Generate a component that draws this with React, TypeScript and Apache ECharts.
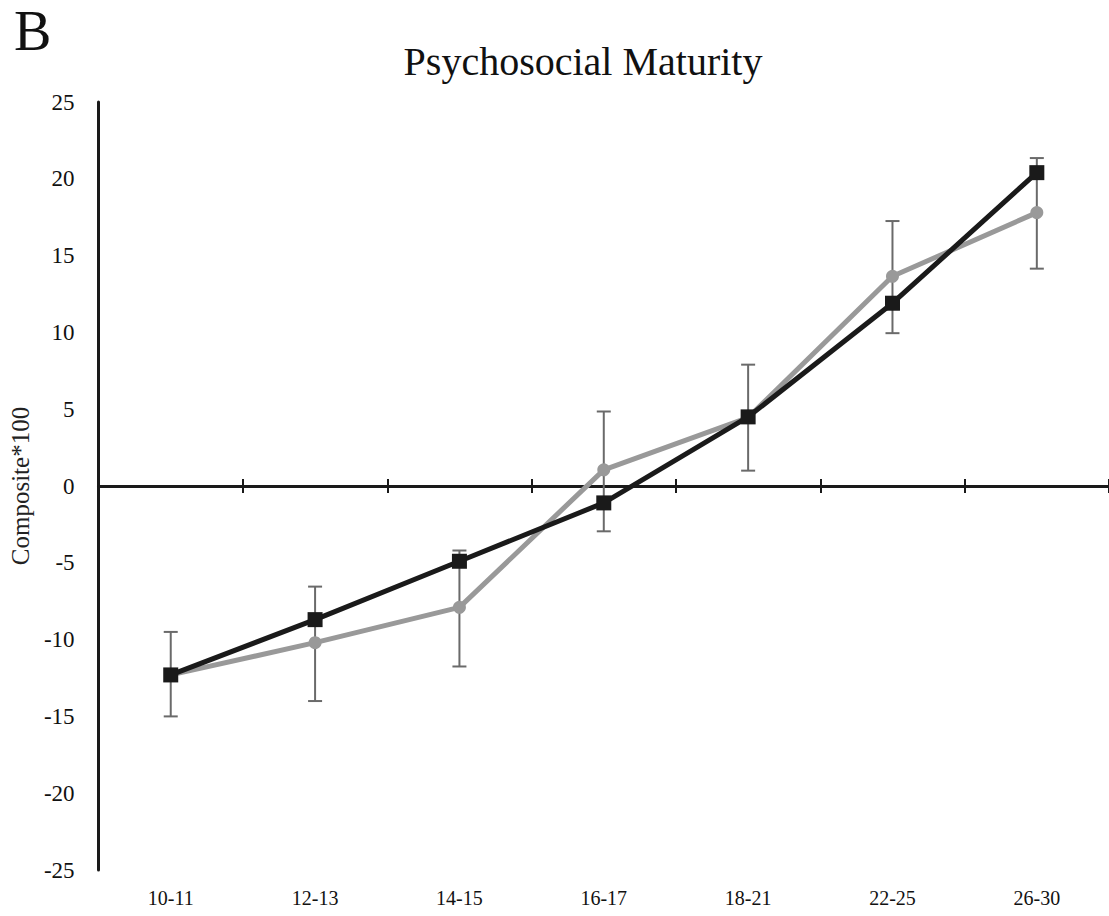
import React, { useEffect, useRef } from "react";
import * as echarts from "echarts";

const categories = ["10-11", "12-13", "14-15", "16-17", "18-21", "22-25", "26-30"];
const blackSeries = [-12.3, -8.7, -4.9, -1.1, 4.5, 11.9, 20.4];
const graySeries = [-12.3, -10.2, -7.9, 1.05, 4.45, 13.65, 17.8];
const errLow = [-15.0, -14.0, -11.75, -2.95, 1.0, 9.95, 14.15];
const errHigh = [-9.5, -6.55, -4.2, 4.85, 7.9, 17.25, 21.35];
const yTicks = { min: -25, max: 25, interval: 5 };

const SERIF = "'Liberation Serif', 'DejaVu Serif', serif";

export default function App() {
  const ref = useRef<HTMLDivElement>(null);

  useEffect(() => {
    if (!ref.current) return;
    const chart = echarts.init(ref.current, null, { renderer: "svg" });
    const errData = categories.map((_, i) => [i, errLow[i], errHigh[i]]);

    chart.setOption({
      animation: false,
      backgroundColor: "#ffffff",
      grid: { left: 97, top: 102, width: 1024, height: 768, containLabel: false },
      graphic: [
        {
          type: "text",
          x: 14,
          y: 3,
          style: { text: "B", font: `56px ${SERIF}`, fill: "#111", textVerticalAlign: "top" },
        },
        {
          type: "text",
          x: 583,
          y: 41,
          style: {
            text: "Psychosocial Maturity",
            font: `40px ${SERIF}`,
            fill: "#111",
            textAlign: "center",
            textVerticalAlign: "top",
          },
        },
      ],
      xAxis: [
        {
          type: "category",
          data: categories,
          boundaryGap: true,
          position: "bottom",
          axisLine: { show: false, onZero: false },
          axisTick: { show: false },
          axisLabel: { margin: 18, fontSize: 20, fontFamily: SERIF, color: "#111" },
          splitLine: { show: false },
        },
        {
          type: "category",
          data: categories,
          boundaryGap: true,
          position: "bottom",
          axisLine: { show: true, onZero: true, onZeroAxisIndex: 0, lineStyle: { color: "#1a1a1a", width: 3 } },
          axisTick: { show: true, inside: false, length: 7, lineStyle: { color: "#1a1a1a", width: 2 } },
          axisLabel: { show: false },
          splitLine: { show: false },
        },
        {
          type: "category",
          data: categories,
          boundaryGap: true,
          position: "bottom",
          axisLine: { show: true, onZero: true, onZeroAxisIndex: 1, lineStyle: { color: "#1a1a1a", width: 3, opacity: 0 } },
          axisTick: { show: true, inside: true, length: 7, lineStyle: { color: "#1a1a1a", width: 2 } },
          axisLabel: { show: false },
          splitLine: { show: false },
        },
      ],
      yAxis: [
        {
          type: "value",
          min: yTicks.min,
          max: yTicks.max,
          interval: yTicks.interval,
          name: "Composite*100",
          nameLocation: "middle",
          nameRotate: 90,
          nameGap: 44,
          nameTextStyle: { fontSize: 25, fontFamily: SERIF, color: "#222" },
          axisLine: { show: true, onZero: false, lineStyle: { color: "#1a1a1a", width: 3 } },
          axisTick: { show: false },
          axisLabel: { margin: 24, fontSize: 23, fontFamily: SERIF, color: "#111" },
          splitLine: { show: false },
        },
        {
          type: "value",
          min: yTicks.min,
          max: yTicks.max,
          interval: yTicks.interval,
          position: "left",
          axisLine: { show: false, onZero: false },
          axisTick: { show: false },
          axisLabel: { show: false },
          splitLine: { show: false },
        },
      ],
      series: [
        {
          type: "custom",
          name: "error",
          xAxisIndex: 1,
          yAxisIndex: 0,
          z: 1,
          data: errData,
          renderItem: (params: any, api: any) => {
            const x = api.value(0);
            const lo = api.coord([x, api.value(1)]);
            const hi = api.coord([x, api.value(2)]);
            const cap = 7;
            const style = { stroke: "#6a6a6a", lineWidth: 2, fill: "none" };
            return {
              type: "group",
              children: [
                { type: "line", shape: { x1: lo[0], y1: lo[1], x2: hi[0], y2: hi[1] }, style },
                { type: "line", shape: { x1: lo[0] - cap, y1: lo[1], x2: lo[0] + cap, y2: lo[1] }, style },
                { type: "line", shape: { x1: hi[0] - cap, y1: hi[1], x2: hi[0] + cap, y2: hi[1] }, style },
              ],
            };
          },
        },
        {
          type: "line",
          name: "gray",
          xAxisIndex: 1,
          yAxisIndex: 0,
          z: 2,
          data: graySeries,
          symbol: "circle",
          symbolSize: 13,
          lineStyle: { color: "#999999", width: 5 },
          itemStyle: { color: "#999999" },
        },
        {
          type: "line",
          name: "black",
          xAxisIndex: 1,
          yAxisIndex: 0,
          z: 3,
          data: blackSeries,
          symbol: "rect",
          symbolSize: 15,
          lineStyle: { color: "#1a1a1a", width: 5 },
          itemStyle: { color: "#1a1a1a" },
        },
      ],
    });

    return () => chart.dispose();
  }, []);

  return (
    <div
      ref={ref}
      style={{ position: "absolute", left: 0, top: 0, width: 1109, height: 916, background: "#fff" }}
    />
  );
}
